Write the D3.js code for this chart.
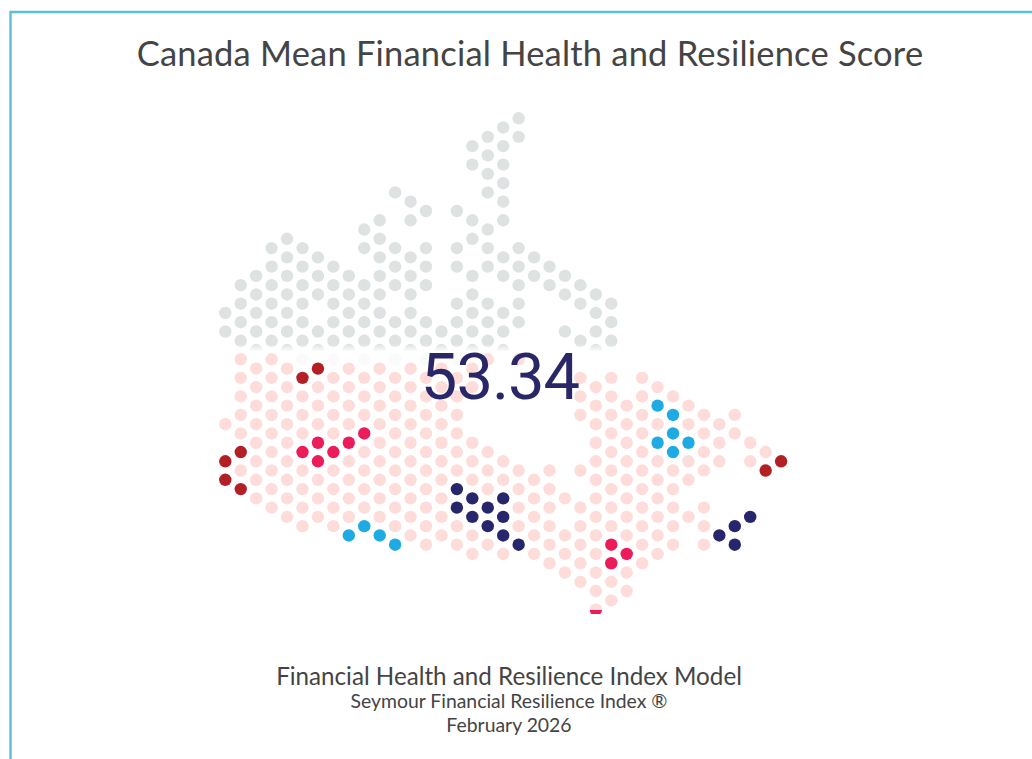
<!DOCTYPE html>
<html>
<head>
<meta charset="utf-8">
<script src="https://cdn.jsdelivr.net/npm/d3@7"></script>
<style>
  html, body { margin: 0; padding: 0; background: #fff; overflow: hidden; }
  text { text-anchor: middle; }
</style>
</head>
<body>
<div id="chart"></div>
<script>
var titleText = "Canada Mean Financial Health and Resilience Score";
var scoreText = "53.34";
var footerLines = [
  "Financial Health and Resilience Index Model",
  "Seymour Financial Resilience Index \u00AE",
  "February 2026"
];

//dots are [column, [rows]] on the hex grid, odd and even columns are offset half a row
var greyDots = [
  [0, [21, 23]], [1, [18, 20, 22, 24]], [2, [17, 19, 21, 23, 25]],
  [3, [14, 16, 18, 20, 22, 24]], [4, [13, 15, 17, 19, 21, 23, 25]],
  [5, [14, 16, 18, 20, 22, 24]], [6, [15, 17, 19, 23, 25]],
  [7, [16, 18, 20, 22, 24]], [8, [17, 19, 21, 23, 25]],
  [9, [12, 14, 18, 20, 22, 24]], [10, [11, 13, 15, 17, 19, 21, 23, 25]],
  [11, [8, 14, 16, 18, 22, 24]], [12, [9, 11, 15, 17, 19, 21, 23, 25]],
  [13, [10, 14, 16, 18, 22, 24]], [14, [23, 25]],
  [15, [10, 14, 16, 20, 22, 24]], [16, [3, 5, 11, 13, 17, 19, 21, 23, 25]],
  [17, [2, 4, 6, 8, 12, 14, 16, 20, 22, 24]],
  [18, [1, 3, 5, 7, 9, 11, 15, 17, 21, 23, 25]],
  [19, [0, 2, 14, 16, 18, 20, 22]], [20, [15, 17]], [21, [16, 18]],
  [22, [17, 19, 23]], [23, [18, 20, 24]], [24, [19, 21, 23, 25]], [25, [20, 22, 24]]
];

var pinkDots = [
  [0, [33]], [1, [26, 28, 30, 32, 34, 38]], [2, [27, 29, 31, 33, 35, 37, 39, 41]],
  [3, [26, 28, 30, 32, 34, 36, 38, 40, 42]], [4, [27, 29, 31, 33, 35, 37, 39, 41, 43]],
  [5, [30, 32, 34, 38, 40, 42, 44]], [6, [29, 31, 33, 39, 41, 43]],
  [7, [28, 30, 32, 34, 38, 40, 42, 44]], [8, [27, 29, 31, 33, 37, 39, 41, 43]],
  [9, [28, 30, 32, 36, 38, 40, 42]], [10, [27, 29, 31, 33, 35, 37, 39, 41, 43]],
  [11, [28, 30, 32, 34, 36, 38, 40, 42, 44]], [12, [27, 29, 31, 33, 35, 37, 39, 41, 43, 45]],
  [13, [28, 30, 32, 34, 36, 38, 40, 42, 44, 46]], [14, [27, 29, 31, 33, 35, 37, 39, 41, 43, 45]],
  [15, [28, 30, 32, 34, 36, 38, 44, 46]], [16, [27, 29, 35, 37, 39, 45, 47]],
  [17, [26, 36, 38, 40, 46]], [18, [37, 39, 47]], [19, [26, 38, 40, 42, 44]],
  [20, [39, 41, 43, 45, 47]], [21, [38, 40, 42, 44, 46, 48]], [22, [41, 45, 47, 49]],
  [23, [28, 30, 32, 38, 42, 44, 46, 48, 50]],
  [24, [29, 31, 33, 35, 37, 39, 41, 43, 45, 47, 49, 51, 53]],
  [25, [28, 30, 32, 34, 36, 38, 40, 42, 44, 50, 52]],
  [26, [31, 33, 35, 37, 39, 41, 43, 45, 49, 51]],
  [27, [28, 30, 32, 34, 36, 38, 40, 42, 44, 46, 48]],
  [28, [29, 33, 37, 39, 41, 43, 45, 47]], [29, [30, 38, 40, 42, 44, 46]],
  [30, [31, 33, 37, 39, 43]], [31, [32, 34, 36, 38, 42, 44, 46]],
  [32, [33, 35, 37]], [33, [32, 34]], [34, [35, 37]], [35, [36]]
];

var paleDots = [[5, [26]], [7, [26]], [9, [26]], [11, [26]], [13, [26]], [15, [26]]];

var darkRedDots = [[0, [37, 39]], [1, [36, 40]], [5, [28]], [6, [27]], [35, [38]], [36, [37]]];
var crimsonDots = [[5, [36]], [6, [35, 37]], [7, [36]], [8, [35]], [9, [34]], [25, [46, 48]], [26, [47]]];
var blueDots = [[8, [45]], [9, [44]], [10, [45]], [11, [46]], [28, [31, 35]], [29, [32, 34, 36]], [30, [35]]];
var navyDots = [
  [15, [40, 42]], [16, [41, 43]], [17, [42, 44]], [18, [41, 43, 45]], [19, [46]],
  [32, [45]], [33, [44, 46]], [34, [43]]
];
//only a sliver of this one shows at the bottom tip
var tipDots = [[24, [53]]];

var width = 1032;
var height = 759;

var x = d3.scaleLinear().domain([0, 36]).range([225.3, 781.1]);
var y = d3.scaleLinear().domain([0, 53]).range([118.3, 609.6]);
var dotRadius = 6.2;

var svg = d3.select("#chart").append("svg")
    .attr("width", width)
    .attr("height", height)
    .style("display", "block");

//clips used for the cut-off map edges
var defs = svg.append("defs");
defs.append("clipPath").attr("id", "grey-clip")
  .append("rect").attr("x", 0).attr("y", 0).attr("width", width).attr("height", 351);
defs.append("clipPath").attr("id", "bottom-clip")
  .append("rect").attr("x", 0).attr("y", 0).attr("width", width).attr("height", 614);
defs.append("clipPath").attr("id", "tip-clip")
  .append("rect").attr("x", 0).attr("y", 610).attr("width", width).attr("height", 4);

var fade = defs.append("linearGradient").attr("id", "fade")
    .attr("x1", 0).attr("y1", 0).attr("x2", 0).attr("y2", 1);
fade.append("stop").attr("offset", "0%").attr("stop-color", "#fff").attr("stop-opacity", 0);
fade.append("stop").attr("offset", "100%").attr("stop-color", "#fff").attr("stop-opacity", 0.85);

function flatten(groups) {
  return d3.merge(groups.map(function(g) {
    return g[1].map(function(r) { return { col: g[0], row: r }; });
  }));
}

function drawDots(parent, groups, color) {
  parent.append("g").selectAll("circle")
      .data(flatten(groups))
      .enter()
      .append("circle")
      .attr("cx", function(d) { return x(d.col); })
      .attr("cy", function(d) { return y(d.row); })
      .attr("r", dotRadius)
      .attr("fill", color);
}

var greyLayer = svg.append("g").attr("clip-path", "url(#grey-clip)");
drawDots(greyLayer, greyDots, "#dfe2e2");

svg.append("rect")
    .attr("x", 215)
    .attr("y", 344)
    .attr("width", 410)
    .attr("height", 7)
    .attr("fill", "url(#fade)");

var map = svg.append("g").attr("clip-path", "url(#bottom-clip)");
drawDots(map, pinkDots, "#fddcd9");
drawDots(map, paleDots, "#fafafa");
drawDots(map, darkRedDots, "#b22026");
drawDots(map, crimsonDots, "#ec1c5b");
drawDots(map, blueDots, "#1eaae2");
drawDots(map, navyDots, "#27256c");

var tip = svg.append("g").attr("clip-path", "url(#tip-clip)");
drawDots(tip, tipDots, "#ec1c5b");

//frame runs off the top right of the picture
svg.append("path")
    .attr("d", "M10.5,759V12H1032")
    .attr("fill", "none")
    .attr("stroke", "#5cbfdb")
    .attr("stroke-width", 2.4);

svg.append("text")
    .attr("x", 530)
    .attr("y", 66)
    .attr("font-family", "Lato")
    .attr("font-size", 34.5)
    .attr("letter-spacing", 0.2)
    .attr("fill", "#444")
    .text(titleText);

svg.append("text")
    .attr("x", 500)
    .attr("y", 399)
    .attr("font-family", "Roboto")
    .attr("font-size", 65)
    .attr("letter-spacing", -1)
    .attr("fill", "#2a2768")
    .text(scoreText);

var footerStyle = [
  { size: 24.2, y: 684.5 },
  { size: 19.4, y: 707.5 },
  { size: 19.4, y: 731.5 }
];

svg.selectAll(".footer")
    .data(footerLines)
    .enter()
    .append("text")
    .attr("class", "footer")
    .attr("x", 509)
    .attr("y", function(d, i) { return footerStyle[i].y; })
    .attr("font-family", "Lato")
    .attr("font-size", function(d, i) { return footerStyle[i].size; })
    .attr("fill", "#444")
    .text(function(d) { return d; });
</script>
</body>
</html>
